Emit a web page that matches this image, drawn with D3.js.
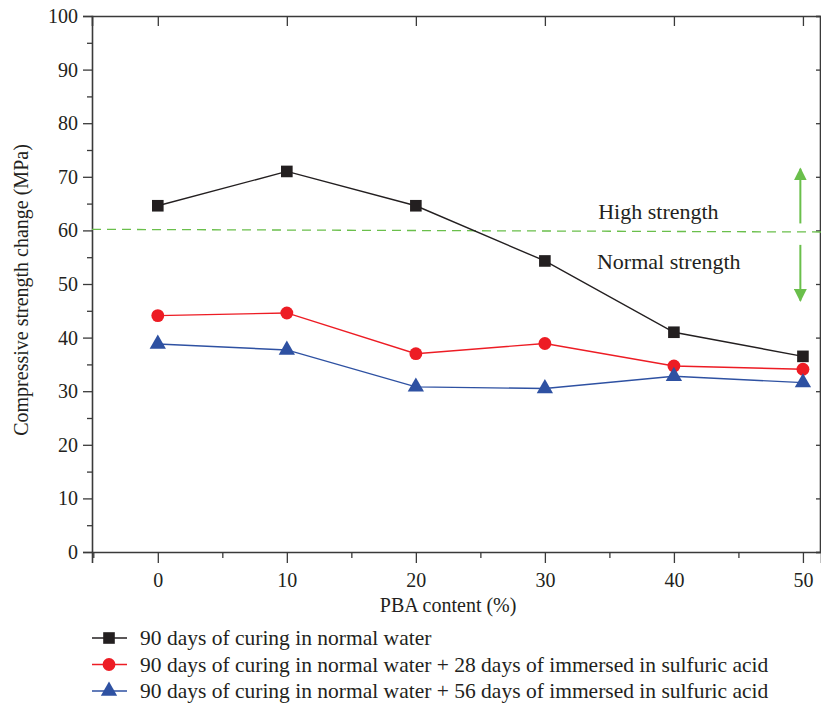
<!DOCTYPE html>
<html>
<head>
<meta charset="utf-8">
<script src="https://cdn.jsdelivr.net/npm/d3@7"></script>
<style>
    body { margin: 0; background: #fff; }
</style>
</head>
<body>
<div id="chart"></div>
<script>
    var pbaContent = [0, 10, 20, 30, 40, 50];
    var normalWater = [64.6, 71.0, 64.6, 54.3, 41.0, 36.5];
    var acid28Days = [44.1, 44.6, 37.0, 38.9, 34.7, 34.1];
    var acid56Days = [38.8, 37.7, 30.8, 30.5, 32.8, 31.6];
    var seriesNames = [
        "90 days of curing in normal water",
        "90 days of curing in normal water + 28 days of immersed in sulfuric acid",
        "90 days of curing in normal water + 56 days of immersed in sulfuric acid"
    ];
    var xTicks = [0, 10, 20, 30, 40, 50];
    var yTicks = [0, 10, 20, 30, 40, 50, 60, 70, 80, 90, 100];
    var limitLine = [[-5.1, 60.2], [51.4, 59.7]];

    var width = 821, height = 703;
    var margin = { top: 16, right: 0, bottom: 151, left: 92 };
    var innerW = width - margin.left - margin.right;
    var innerH = height - margin.top - margin.bottom;
    var serif = "Liberation Serif";
    var textColor = "#231f20";

    var svg = d3.select("#chart").append("svg")
        .attr("width", width)
        .attr("height", height);

    var g = svg.append("g")
        .attr("transform", "translate(" + margin.left + "," + margin.top + ")");

    var x = d3.scaleLinear().domain([-5.1, 51.4]).range([0, innerW]);
    var y = d3.scaleLinear().domain([0, 100]).range([innerH, 0]);

    var axisColor = "#3a3a3a";

    // left axis: majors with labels, minors outward
    g.append("g")
        .call(d3.axisLeft(y).tickValues(yTicks).tickSize(9).tickPadding(5));
    g.append("g")
        .call(d3.axisLeft(y).tickValues(d3.range(5, 100, 10)).tickSize(5).tickFormat(""))
        .select(".domain").remove();

    // bottom axis
    g.append("g")
        .attr("transform", "translate(0," + innerH + ")")
        .call(d3.axisBottom(x).tickValues(xTicks).tickSize(11).tickPadding(10));
    g.append("g")
        .attr("transform", "translate(0," + innerH + ")")
        .call(d3.axisBottom(x).tickValues([-5, 5, 15, 25, 35, 45]).tickSize(6).tickFormat(""))
        .select(".domain").remove();

    // top axis with inward ticks
    g.append("g")
        .call(d3.axisTop(x).tickValues(xTicks).tickSize(-10).tickFormat(""));
    // right axis with short inward ticks
    g.append("g")
        .attr("transform", "translate(" + (innerW - 1) + ",0)")
        .call(d3.axisRight(y).tickValues(yTicks).tickSize(-4).tickFormat(""));

    g.selectAll(".domain").attr("stroke", axisColor).attr("stroke-width", 1.6);
    g.selectAll(".tick line").attr("stroke", axisColor).attr("stroke-width", 1.3);
    g.selectAll(".tick text").attr("fill", textColor).attr("font-size", 20);

    // axis titles
    svg.append("text")
        .attr("x", margin.left + x(22.5))
        .attr("y", 612)
        .attr("text-anchor", "middle")
        .attr("font-size", 20)
        .attr("fill", textColor)
        .text("PBA content (%)");
    svg.append("text")
        .attr("transform", "translate(28," + (margin.top + y(50) + 6) + ") rotate(-90)")
        .attr("text-anchor", "middle")
        .attr("font-size", 20)
        .attr("fill", textColor)
        .text("Compressive strength change (MPa)");

    // threshold line
    var green = "#6abf4b";
    g.append("line")
        .attr("x1", x(limitLine[0][0])).attr("y1", y(limitLine[0][1]))
        .attr("x2", x(limitLine[1][0])).attr("y2", y(limitLine[1][1]))
        .attr("stroke", green)
        .attr("stroke-width", 1.3)
        .attr("stroke-dasharray", "9,6");

    svg.append("defs").append("marker")
        .attr("id", "arrowHead")
        .attr("viewBox", "0 0 10 10")
        .attr("refX", 9).attr("refY", 5)
        .attr("markerWidth", 6.5).attr("markerHeight", 6.5)
        .attr("markerUnits", "strokeWidth")
        .attr("orient", "auto")
        .append("path")
        .attr("d", "M0,0 L10,5 L0,10 Z")
        .attr("fill", green);

    [[61.3, 71.5], [57.3, 46.9]].forEach(function(a) {
        g.append("line")
            .attr("x1", x(49.8)).attr("y1", y(a[0]))
            .attr("x2", x(49.8)).attr("y2", y(a[1]))
            .attr("stroke", green)
            .attr("stroke-width", 2)
            .attr("marker-end", "url(#arrowHead)");
    });

    g.append("text")
        .attr("x", x(38.8)).attr("y", y(62.1))
        .attr("text-anchor", "middle")
        .attr("font-size", 22)
        .attr("fill", textColor)
        .text("High strength");
    g.append("text")
        .attr("x", x(39.6)).attr("y", y(52.8))
        .attr("text-anchor", "middle")
        .attr("font-size", 22)
        .attr("fill", textColor)
        .text("Normal strength");

    // series
    var seriesData = [
        { values: normalWater, color: "#231f20", symbol: d3.symbolSquare, size: 135 },
        { values: acid28Days, color: "#ed1c24", symbol: d3.symbolCircle, size: 130 },
        { values: acid56Days, color: "#2e51a2", symbol: d3.symbolTriangle, size: 115 }
    ];

    var line = d3.line()
        .x(function(d, i) { return x(pbaContent[i]); })
        .y(function(d) { return y(d); });

    seriesData.forEach(function(s) {
        g.append("path")
            .datum(s.values)
            .attr("d", line)
            .attr("fill", "none")
            .attr("stroke", s.color)
            .attr("stroke-width", 1.4);
        g.selectAll(null)
            .data(s.values)
            .enter()
            .append("path")
            .attr("transform", function(d, i) {
                return "translate(" + x(pbaContent[i]) + "," + y(d) + ")";
            })
            .attr("d", d3.symbol().type(s.symbol).size(s.size))
            .attr("fill", s.color);
    });

    // legend
    var legend = svg.append("g").attr("transform", "translate(92,638)");
    seriesData.forEach(function(s, i) {
        var row = legend.append("g").attr("transform", "translate(0," + (i * 26.5) + ")");
        row.append("line")
            .attr("x1", 0).attr("x2", 35)
            .attr("stroke", s.color).attr("stroke-width", 1.4);
        row.append("path")
            .attr("transform", "translate(17,0)")
            .attr("d", d3.symbol().type(s.symbol).size(s.size))
            .attr("fill", s.color);
        row.append("text")
            .attr("x", 48).attr("y", 7)
            .attr("font-size", 21.5)
            .attr("fill", textColor)
            .text(seriesNames[i]);
    });

    // serif face on every label
    svg.selectAll("text").attr("font-family", serif);
</script>
</body>
</html>
